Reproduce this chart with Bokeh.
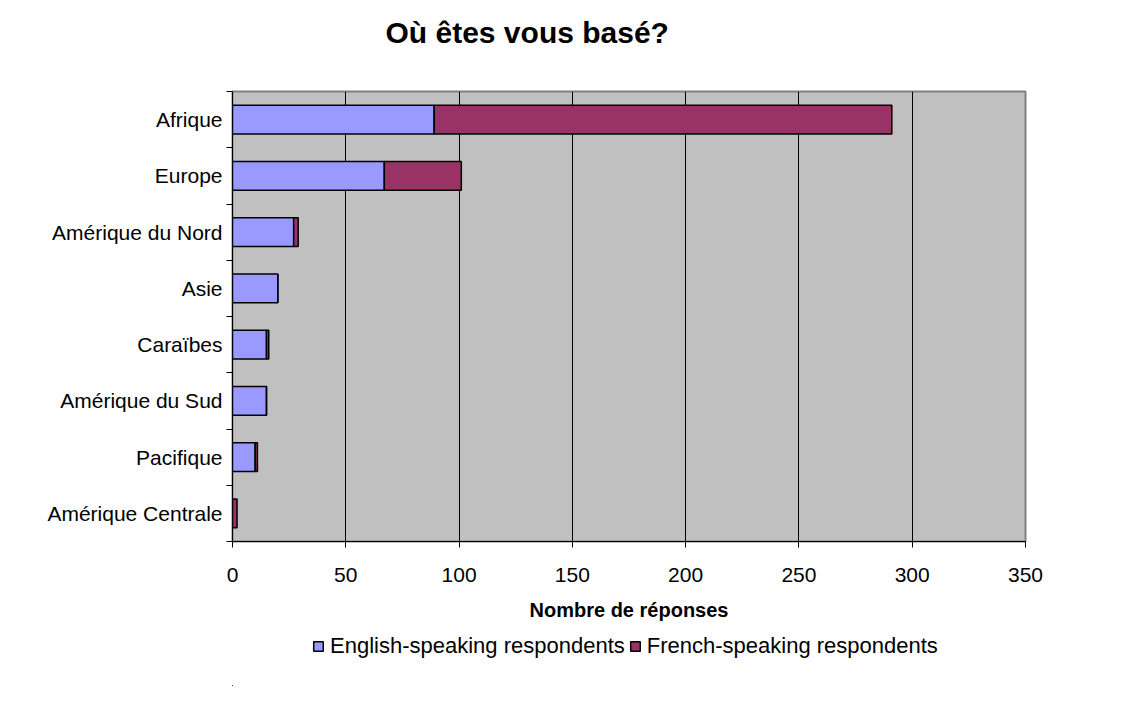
from bokeh.plotting import figure
from bokeh.layouts import column
from bokeh.models import FixedTicker, Legend, LegendItem, ColumnDataSource, Title
from bokeh.embed import file_html
from bokeh.resources import INLINE

regions = ["Afrique", "Europe", "Amérique du Nord", "Asie", "Caraïbes",
           "Amérique du Sud", "Pacifique", "Amérique Centrale"]
english = [89, 67, 27, 20, 15, 15, 10, 0]
french = [202, 34, 2, 0, 1, 0, 1, 2]
x_ticks = [0, 50, 100, 150, 200, 250, 300, 350]
series_names = ["English-speaking respondents", "French-speaking respondents"]
series_colors = ["#9999FF", "#993366"]

n = len(regions)
ypos = [n - i - 0.5 for i in range(n)]
total = [e + f for e, f in zip(english, french)]
src = ColumnDataSource(dict(y=ypos, eng=english, tot=total, zero=[0] * n))

FONT = "Liberation Sans"

p = figure(width=1137, height=630, x_range=(0, 350), y_range=(0, n),
           output_backend="svg", toolbar_location=None,
           min_border_left=232, min_border_right=112,
           min_border_top=91, min_border_bottom=89)
p.title.text = "Où êtes vous basé?"
p.title.text_font = FONT
p.title.text_font_size = "30px"
p.title.text_font_style = "bold"
p.title.text_color = "black"
p.title.align = "left"
p.title.offset = 153
p.title.standoff = 0
spacer = Title(text=" ", text_font_size="36px", standoff=0, text_font=FONT)
p.above.insert(0, spacer)

p.background_fill_color = "#C0C0C0"
p.border_fill_color = "white"
p.outline_line_color = "#808080"
p.outline_line_width = 2

r1 = p.hbar(y="y", left="zero", right="eng", height=0.51, source=src,
            fill_color=series_colors[0], line_color="black", line_width=1.5)
r2 = p.hbar(y="y", left="eng", right="tot", height=0.51, source=src,
            fill_color=series_colors[1], line_color="black", line_width=1.5)

p.xaxis.ticker = FixedTicker(ticks=x_ticks)
p.xaxis.axis_label = "Nombre de réponses"
p.xaxis.axis_label_text_font = FONT
p.xaxis.axis_label_text_font_size = "20px"
p.xaxis.axis_label_text_font_style = "bold"
p.xaxis.axis_label_text_color = "black"
p.xaxis.axis_label_standoff = 14
p.xaxis.major_label_text_font = FONT
p.xaxis.major_label_text_font_size = "21px"
p.xaxis.major_label_text_color = "black"
p.xaxis.major_tick_out = 6
p.xaxis.major_tick_in = 0
p.xaxis.minor_tick_line_color = None
p.xaxis.axis_line_color = "black"
p.xaxis.major_label_standoff = 20

p.yaxis.ticker = FixedTicker(ticks=ypos, minor_ticks=list(range(n + 1)))
p.yaxis.major_label_overrides = {y: r for y, r in zip(ypos, regions)}
p.yaxis.major_label_text_font = FONT
p.yaxis.major_label_text_font_size = "21px"
p.yaxis.major_label_text_color = "black"
p.yaxis.major_tick_out = 0
p.yaxis.major_tick_in = 0
p.yaxis.minor_tick_out = 6
p.yaxis.minor_tick_in = 0
p.yaxis.minor_tick_line_color = "black"
p.yaxis.axis_line_color = "black"
p.yaxis.major_label_standoff = 4

p.xgrid.ticker = FixedTicker(ticks=x_ticks[1:-1])
p.xgrid.grid_line_color = "black"
p.xgrid.grid_line_width = 1
p.ygrid.grid_line_color = None

# legend-only strip below the chart (its frame is aligned with the chart's frame);
# its ranges keep the bars themselves out of view, only the legend shows
lf = figure(width=1137, height=56, output_backend="svg", toolbar_location=None,
            x_range=(1000, 1001), y_range=(1000, 1001), min_border=0)
lf.axis.visible = False
lf.grid.visible = False
lf.outline_line_color = None
l1 = lf.hbar(y="y", left="zero", right="eng", height=0.51, source=src,
             fill_color=series_colors[0], line_color="black", line_width=1.5)
l2 = lf.hbar(y="y", left="eng", right="tot", height=0.51, source=src,
             fill_color=series_colors[1], line_color="black", line_width=1.5)
legend = Legend(items=[LegendItem(label=nm, renderers=[r]) for nm, r in zip(series_names, [l1, l2])],
                orientation="horizontal", location=(312 - 232, 27),
                label_text_font=FONT, label_text_font_size="22px",
                label_text_color="black",
                glyph_width=12, glyph_height=12, spacing=4, padding=0,
                margin=0, label_standoff=6, border_line_color=None,
                background_fill_alpha=0)
lf.add_layout(legend, "center")

layout = column(p, lf, spacing=0)
open("out.html", "w").write(file_html(layout, INLINE))
